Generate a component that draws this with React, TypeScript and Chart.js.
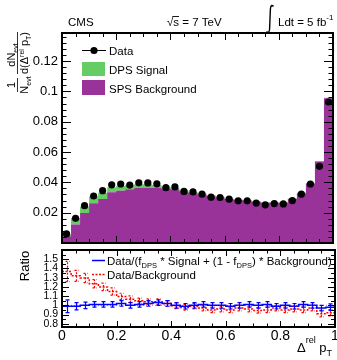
import React, { useEffect, useRef } from 'react';
import { Chart, registerables } from 'chart.js';
Chart.register(...registerables);

const FONT = '"Liberation Sans", Arial, Helvetica, sans-serif';
const PURPLE = '#993399';
const GREEN = '#66CC66';

// 30 bins on [0, 1]
const N_BINS = 30;
const X_MIN = 0;
const X_MAX = 1;

// Top panel: normalised distributions
const dataValues = [0.006, 0.0163, 0.0246, 0.031, 0.0345, 0.0384, 0.0389, 0.0382, 0.0397, 0.0396,
  0.039, 0.0365, 0.037, 0.034, 0.0337, 0.0322, 0.0302, 0.030, 0.0289, 0.0278,
  0.0278, 0.0263, 0.0252, 0.026, 0.0258, 0.028, 0.0322, 0.0389, 0.0506, 0.093];
const spsBackground = [0.0045, 0.0122, 0.0198, 0.0262, 0.029, 0.0335, 0.0345, 0.0354, 0.0365, 0.0365,
  0.0365, 0.036, 0.0355, 0.034, 0.033, 0.032, 0.031, 0.030, 0.029, 0.0283,
  0.028, 0.0272, 0.0265, 0.0265, 0.0265, 0.029, 0.0328, 0.0393, 0.0538, 0.0955];
const dpsSignal = [0.0012, 0.0043, 0.0043, 0.0044, 0.0042, 0.0032, 0.0031, 0.0028, 0.0022, 0.0022,
  0.0017, 0.0012, 0.001, 0.0008, 0.0007, 0.0006, 0.0005, 0.0005, 0.0004, 0.0004,
  0.0003, 0.0003, 0.0003, 0.0003, 0.0003, 0.0003, 0.0003, 0.0003, 0.0003, 0.0003];

// Bottom panel: ratios
const ratioFit = [0.99, 0.99, 1.0, 1.01, 1.01, 1.01, 1.02, 1.0, 1.01, 1.02,
  1.03, 1.02, 1.0, 0.99, 1.0, 1.01, 1.0, 1.0, 0.99, 1.0,
  1.01, 1.0, 1.01, 0.99, 1.0, 0.99, 1.01, 1.0, 0.97, 0.98];
const ratioFitErr = [0.07, 0.04, 0.035, 0.03, 0.03, 0.03, 0.03, 0.03, 0.03, 0.03,
  0.03, 0.03, 0.03, 0.03, 0.03, 0.03, 0.03, 0.03, 0.03, 0.03,
  0.03, 0.03, 0.03, 0.03, 0.03, 0.03, 0.03, 0.03, 0.03, 0.035];
const ratioBkg = [1.367, 1.32, 1.296, 1.234, 1.2, 1.15, 1.096, 1.067, 1.049, 1.04,
  1.04, 1.02, 0.995, 0.977, 0.99, 0.97, 0.95, 0.96, 0.95, 0.97,
  0.96, 0.945, 0.95, 0.97, 0.95, 0.96, 0.95, 0.97, 0.91, 0.92];
const ratioBkgErr = [0.11, 0.06, 0.05, 0.045, 0.04, 0.04, 0.035, 0.035, 0.03, 0.03,
  0.03, 0.03, 0.03, 0.03, 0.03, 0.03, 0.03, 0.03, 0.03, 0.03,
  0.03, 0.03, 0.03, 0.03, 0.03, 0.03, 0.03, 0.03, 0.035, 0.035];

// Tick labels
const xTickValues = [0, 0.2, 0.4, 0.6, 0.8, 1];
const topYTickValues = [0.02, 0.04, 0.06, 0.08, 0.1, 0.12];
const ratioYTickValues = [0.8, 0.9, 1, 1.1, 1.2, 1.3, 1.4, 1.5];

const binCenter = (i: number) => X_MIN + ((i + 0.5) * (X_MAX - X_MIN)) / N_BINS;
const binLow = (i: number) => X_MIN + (i * (X_MAX - X_MIN)) / N_BINS;
const toSteps = (arr: number[]) =>
  arr.map((v, i) => ({ x: binLow(i), y: v })).concat([{ x: X_MAX, y: arr[arr.length - 1] }]);

type Part = { t: string; s: number; dy?: number };
function richWidth(ctx: CanvasRenderingContext2D, parts: Part[]) {
  let w = 0;
  for (const p of parts) {
    ctx.font = `${p.s}px ${FONT}`;
    w += ctx.measureText(p.t).width;
  }
  return w;
}
function drawRich(ctx: CanvasRenderingContext2D, x: number, y: number, parts: Part[], align = 'left') {
  const w = richWidth(ctx, parts);
  let cx = align === 'center' ? x - w / 2 : align === 'right' ? x - w : x;
  ctx.textAlign = 'left';
  ctx.textBaseline = 'alphabetic';
  for (const p of parts) {
    ctx.font = `${p.s}px ${FONT}`;
    ctx.fillText(p.t, cx, y + (p.dy || 0));
    cx += ctx.measureText(p.t).width;
  }
  return w;
}

function drawFrameTicks(chart: any, c: any) {
  const { ctx, chartArea: a, scales } = chart;
  const xs = scales.x, ys = scales.y;
  ctx.save();
  ctx.strokeStyle = '#000';
  ctx.lineWidth = 1;
  const k0 = Math.ceil(xs.min / c.xMinor - 1e-6), k1 = Math.floor(xs.max / c.xMinor + 1e-6);
  for (let k = k0; k <= k1; k++) {
    const v = k * c.xMinor;
    const maj = Math.abs(v / c.xMajor - Math.round(v / c.xMajor)) < 1e-6;
    const len = maj ? c.xMajLen : c.xMinLen;
    const px = Math.round(xs.getPixelForValue(v)) + 0.5;
    ctx.beginPath();
    ctx.moveTo(px, a.bottom); ctx.lineTo(px, a.bottom - len);
    ctx.moveTo(px, a.top); ctx.lineTo(px, a.top + len);
    ctx.stroke();
  }
  const j0 = Math.ceil(ys.min / c.yMinor - 1e-6), j1 = Math.floor(ys.max / c.yMinor + 1e-6);
  for (let k = j0; k <= j1; k++) {
    const v = k * c.yMinor;
    const maj = Math.abs(v / c.yMajor - Math.round(v / c.yMajor)) < 1e-6;
    const len = maj ? c.yMajLen : c.yMinLen;
    const py = Math.round(ys.getPixelForValue(v)) + 0.5;
    ctx.beginPath();
    ctx.moveTo(a.left, py); ctx.lineTo(a.left + len, py);
    ctx.moveTo(a.right, py); ctx.lineTo(a.right - len, py);
    ctx.stroke();
  }
  ctx.lineWidth = 2;
  ctx.strokeRect(a.left, a.top, a.right - a.left, a.bottom - a.top);
  ctx.restore();
}

const topDecor = {
  id: 'topDecor',
  afterDraw(chart: any) {
    const ctx: CanvasRenderingContext2D = chart.ctx;
    drawFrameTicks(chart, { xMinor: 0.05, xMajor: 0.2, xMajLen: 7, xMinLen: 4, yMinor: 0.004, yMajor: 0.02, yMajLen: 9, yMinLen: 4.5 });
    ctx.save();
    ctx.fillStyle = '#000';
    // legend
    ctx.strokeStyle = '#000';
    ctx.lineWidth = 1;
    ctx.beginPath(); ctx.moveTo(82, 50.5); ctx.lineTo(106, 50.5); ctx.stroke();
    ctx.beginPath(); ctx.arc(94, 50.5, 3.6, 0, Math.PI * 2); ctx.fill();
    ctx.fillStyle = GREEN; ctx.fillRect(82, 62, 23, 14);
    ctx.fillStyle = PURPLE; ctx.fillRect(82, 80, 23, 15);
    ctx.fillStyle = '#000';
    drawRich(ctx, 109, 54.5, [{ t: 'Data', s: 11.5 }]);
    drawRich(ctx, 109, 74, [{ t: 'DPS Signal', s: 11.5 }]);
    drawRich(ctx, 109, 92.5, [{ t: 'SPS Background', s: 11.5 }]);
    // header
    drawRich(ctx, 68, 26, [{ t: 'CMS', s: 11.5 }]);
    ctx.font = `11.5px ${FONT}`;
    const rw = ctx.measureText('√').width;
    const sw = ctx.measureText('s').width;
    drawRich(ctx, 167, 26, [{ t: '√s = 7 TeV', s: 11.5 }]);
    ctx.lineWidth = 0.9;
    ctx.beginPath(); ctx.moveTo(167 + rw - 1, 16.5); ctx.lineTo(167 + rw + sw, 16.5); ctx.stroke();
    // integral sign
    ctx.lineWidth = 1.4;
    ctx.beginPath();
    ctx.moveTo(273.5, 6.5);
    ctx.quadraticCurveTo(271, 3.5, 270.4, 9);
    ctx.lineTo(269.6, 29);
    ctx.quadraticCurveTo(269, 34.5, 266.5, 31.5);
    ctx.stroke();
    drawRich(ctx, 278, 26, [{ t: 'Ldt = 5 fb', s: 11.5 }, { t: '-1', s: 8, dy: -6 }]);
    // y title, rotated
    ctx.translate(17, 0);
    ctx.rotate(-Math.PI / 2);
    ctx.lineWidth = 0.8;
    ctx.beginPath(); ctx.moveTo(-92, 0.5); ctx.lineTo(-78, 0.5); ctx.stroke();
    drawRich(ctx, -85, -2, [{ t: '1', s: 11 }], 'center');
    drawRich(ctx, -85, 11, [{ t: 'N', s: 11 }, { t: 'evt', s: 7, dy: 2.5 }], 'center');
    ctx.beginPath(); ctx.moveTo(-74, 0.5); ctx.lineTo(-32, 0.5); ctx.stroke();
    drawRich(ctx, -55, -2, [{ t: 'dN', s: 11 }, { t: 'evt', s: 7, dy: 2.5 }], 'center');
    drawRich(ctx, -53, 11, [{ t: 'd(Δ', s: 11 }, { t: 'rel', s: 7, dy: -4.5 }, { t: ' p', s: 11 }, { t: 'T', s: 7, dy: 2.5 }, { t: ')', s: 11 }], 'center');
    ctx.restore();
  },
};

const botDecor = {
  id: 'botDecor',
  afterDatasetsDraw(chart: any) {
    const { ctx, chartArea: a, scales } = chart;
    const xs = scales.x, ys = scales.y;
    ctx.save();
    ctx.beginPath(); ctx.rect(a.left, a.top, a.right - a.left, a.bottom - a.top); ctx.clip();
    const drawErr = (vals: number[], errs: number[], color: string, dash: number[]) => {
      ctx.strokeStyle = color;
      ctx.lineWidth = 1.2;
      ctx.setLineDash(dash);
      vals.forEach((v, i) => {
        const cx = Math.round(xs.getPixelForValue(binCenter(i))) + 0.5;
        const y1 = ys.getPixelForValue(v - errs[i]);
        const y2 = ys.getPixelForValue(v + errs[i]);
        ctx.beginPath();
        ctx.moveTo(cx, y1); ctx.lineTo(cx, y2);
        ctx.moveTo(cx - 2, y1); ctx.lineTo(cx + 2, y1);
        ctx.moveTo(cx - 2, y2); ctx.lineTo(cx + 2, y2);
        ctx.stroke();
      });
    };
    drawErr(ratioBkg, ratioBkgErr, '#ff0000', [2, 1.5]);
    drawErr(ratioFit, ratioFitErr, '#0000ff', []);
    ctx.restore();
  },
  afterDraw(chart: any) {
    const ctx: CanvasRenderingContext2D = chart.ctx;
    drawFrameTicks(chart, { xMinor: 0.05, xMajor: 0.2, xMajLen: 6, xMinLen: 3.5, yMinor: 0.05, yMajor: 0.1, yMajLen: 7, yMinLen: 4 });
    const oy = -246;
    ctx.save();
    // legend
    ctx.strokeStyle = '#0000ff'; ctx.lineWidth = 1.5;
    ctx.beginPath(); ctx.moveTo(92, 260.5 + oy); ctx.lineTo(105, 260.5 + oy); ctx.stroke();
    ctx.strokeStyle = '#ff0000'; ctx.setLineDash([2, 1.5]);
    ctx.beginPath(); ctx.moveTo(92, 274.5 + oy); ctx.lineTo(105, 274.5 + oy); ctx.stroke();
    ctx.setLineDash([]);
    ctx.fillStyle = '#000';
    drawRich(ctx, 107, 264.5 + oy, [
      { t: 'Data/(f', s: 11.5 }, { t: 'DPS', s: 7.5, dy: 3 },
      { t: ' * Signal + (1 - f', s: 11.5 }, { t: 'DPS', s: 7.5, dy: 3 },
      { t: ') * Background)', s: 11.5 },
    ]);
    drawRich(ctx, 107, 278.5 + oy, [{ t: 'Data/Background', s: 11.5 }]);
    // x title
    drawRich(ctx, 297, 352 + oy, [{ t: 'Δ', s: 13 }, { t: 'rel', s: 9, dy: -9 }, { t: ' p', s: 13 }, { t: 'T', s: 9, dy: 4 }]);
    // y title
    ctx.translate(29, 266 + oy);
    ctx.rotate(-Math.PI / 2);
    drawRich(ctx, 0, 0, [{ t: 'Ratio', s: 13 }], 'center');
    ctx.restore();
  },
};

export default function App() {
  const topRef = useRef<HTMLCanvasElement>(null);
  const botRef = useRef<HTMLCanvasElement>(null);

  useEffect(() => {
    const tickFont = (size: number) => ({ family: FONT, size });
    const top = new Chart(topRef.current as HTMLCanvasElement, {
      type: 'line',
      data: {
        datasets: [
          {
            type: 'scatter', label: 'Data',
            data: dataValues.map((v, i) => ({ x: binCenter(i), y: v })),
            pointRadius: 3.6, pointBackgroundColor: '#000', pointBorderColor: '#000', pointBorderWidth: 0,
            showLine: false, stack: 'data', order: 0,
          } as any,
          {
            label: 'SPS Background', data: toSteps(spsBackground), stepped: true, fill: 'origin',
            backgroundColor: PURPLE, borderColor: 'rgba(0,0,0,0)', borderWidth: 0, pointRadius: 0,
            stack: 'mc', order: 1,
          } as any,
          {
            label: 'DPS Signal', data: toSteps(dpsSignal), stepped: true, fill: '-1',
            backgroundColor: GREEN, borderColor: 'rgba(0,0,0,0)', borderWidth: 0, pointRadius: 0,
            stack: 'mc', order: 2,
          } as any,
        ],
      },
      options: {
        responsive: false, animation: false, devicePixelRatio: 1,
        layout: { padding: { top: 33, bottom: 7, left: 0, right: 2 } },
        plugins: { legend: { display: false }, tooltip: { enabled: false } },
        scales: {
          x: { type: 'linear', min: X_MIN, max: X_MAX, display: false },
          y: {
            type: 'linear', min: 0, max: 0.1385, stacked: true,
            afterBuildTicks: (s: any) => { s.ticks = topYTickValues.map((v) => ({ value: v })); },
            afterFit: (s: any) => { s.width = 62; s.paddingTop = 0; s.paddingBottom = 0; },
            grid: { display: false, drawTicks: false }, border: { display: false },
            ticks: { color: '#000', font: tickFont(13), padding: 4, autoSkip: false, callback: (v: any) => String(v) },
          },
        },
      } as any,
      plugins: [topDecor],
    });

    const bot = new Chart(botRef.current as HTMLCanvasElement, {
      type: 'line',
      data: {
        datasets: [
          {
            label: 'fit', data: toSteps(ratioFit), stepped: true, fill: false,
            borderColor: '#0000ff', borderWidth: 1.5, pointRadius: 0, order: 0,
          } as any,
          {
            label: 'bkg', data: toSteps(ratioBkg), stepped: true, fill: false,
            borderColor: '#ff0000', borderWidth: 1.5, borderDash: [2, 1.5], pointRadius: 0, order: 1,
          } as any,
          {
            label: 'unity', data: [{ x: X_MIN, y: 1 }, { x: X_MAX, y: 1 }], fill: false,
            borderColor: '#888888', borderWidth: 1, borderDash: [1, 2], pointRadius: 0, order: 2,
          } as any,
        ],
      },
      options: {
        responsive: false, animation: false, devicePixelRatio: 1,
        layout: { padding: { top: 4, bottom: 0, left: 0, right: 2 } },
        plugins: { legend: { display: false }, tooltip: { enabled: false } },
        scales: {
          x: {
            type: 'linear', min: X_MIN, max: X_MAX,
            afterBuildTicks: (s: any) => { s.ticks = xTickValues.map((v) => ({ value: v })); },
            afterFit: (s: any) => { s.height = 33; s.paddingLeft = 0; s.paddingRight = 0; },
            grid: { display: false, drawTicks: false }, border: { display: false },
            ticks: { color: '#000', font: tickFont(14), padding: 1, autoSkip: false, maxRotation: 0, callback: (v: any) => String(v) },
          },
          y: {
            type: 'linear', min: 0.765, max: 1.6,
            afterBuildTicks: (s: any) => { s.ticks = ratioYTickValues.map((v) => ({ value: v })); },
            afterFit: (s: any) => { s.width = 62; s.paddingTop = 0; s.paddingBottom = 0; },
            grid: { display: false, drawTicks: false }, border: { display: false },
            ticks: { color: '#000', font: tickFont(10.5), padding: 4, autoSkip: false, callback: (v: any) => String(v) },
          },
        },
      } as any,
      plugins: [botDecor],
    });

    return () => { top.destroy(); bot.destroy(); };
  }, []);

  return (
    <div style={{ position: 'absolute', left: 0, top: 0, width: 337, height: 360, background: '#fff', overflow: 'hidden' }}>
      <canvas ref={topRef} width={337} height={250} style={{ position: 'absolute', left: 0, top: 0, width: 337, height: 250 }} />
      <canvas ref={botRef} width={337} height={114} style={{ position: 'absolute', left: 0, top: 246, width: 337, height: 114 }} />
    </div>
  );
}
